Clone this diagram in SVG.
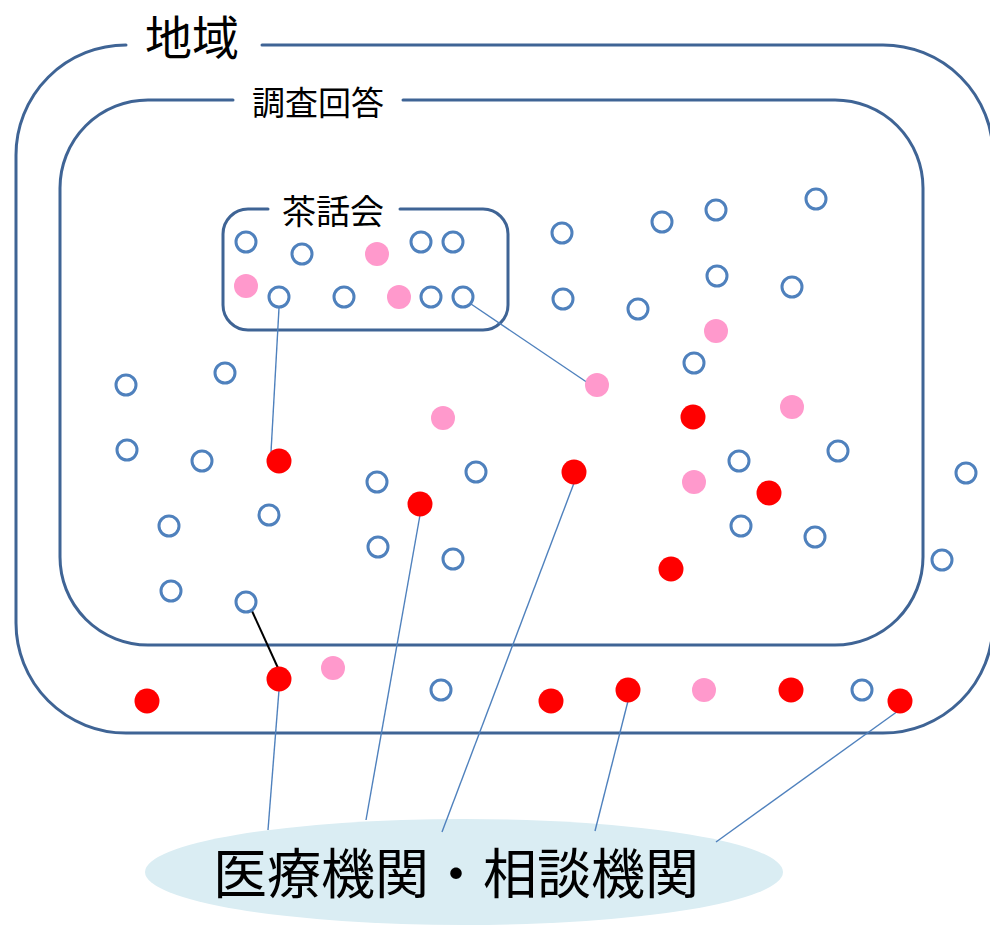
<svg xmlns="http://www.w3.org/2000/svg" width="990" height="929" viewBox="0 0 990 929">
<style>
.frame{fill:none;stroke:#3f6495;stroke-width:3;stroke-linecap:round}
.ring{fill:#fff;stroke:#4f81bd;stroke-width:3}
.pink{fill:#ff99cc}
.red{fill:#ff0000}
.link{stroke:#4f81bd;stroke-width:1.4;fill:none}
.blk{stroke:#000;stroke-width:2;fill:none}
.t{font-family:"Noto Sans CJK JP","Noto Sans CJK SC",sans-serif;fill:#000;text-anchor:middle}
</style>
<rect width="990" height="929" fill="#fff"/>
<g id="region">
<path class="frame" d="M262,45 H883 A110,110 0 0 1 993,155 V623 A110,110 0 0 1 883,733 H126 A110,110 0 0 1 16,623 V155 A110,110 0 0 1 126,45"/>
<text class="t" x="192" y="55" font-size="47">地域</text>
</g>
<g id="survey">
<path class="frame" d="M403,100 H835 A88,88 0 0 1 923,188 V557 A88,88 0 0 1 835,645 H148 A88,88 0 0 1 60,557 V188 A88,88 0 0 1 148,100 H233"/>
<text class="t" x="318" y="115" font-size="33">調査回答</text>
</g>
<g id="teaparty">
<path class="frame" d="M400,209 H483 A25,25 0 0 1 508,234 V305 A25,25 0 0 1 483,330 H248 A25,25 0 0 1 223,305 V234 A25,25 0 0 1 248,209 H268"/>
<text class="t" x="333" y="224" font-size="34">茶話会</text>
</g>
<g id="institutions">
<ellipse cx="464" cy="872" rx="319" ry="53" fill="#daedf3"/>
<text class="t" x="456" y="894" font-size="54">医療機関・相談機関</text>
</g>
<g id="connectors">
<line class="link" x1="279" y1="308" x2="271" y2="452"/>
<line class="link" x1="471" y1="304" x2="588" y2="383"/>
<line class="blk" x1="252" y1="611" x2="278" y2="668"/>
<line class="link" x1="279" y1="690" x2="268" y2="830"/>
<line class="link" x1="420" y1="515" x2="366" y2="820"/>
<line class="link" x1="574" y1="483" x2="442" y2="832"/>
<line class="link" x1="628" y1="701" x2="595" y2="831"/>
<line class="link" x1="898" y1="711" x2="716" y2="842"/>
</g>
<g id="people">
<circle class="ring" cx="246" cy="242" r="10"/>
<circle class="ring" cx="302" cy="254" r="10"/>
<circle class="pink" cx="377" cy="254" r="12"/>
<circle class="ring" cx="421" cy="242" r="10"/>
<circle class="ring" cx="453" cy="242" r="10"/>
<circle class="pink" cx="246" cy="286" r="12"/>
<circle class="ring" cx="279" cy="297" r="10"/>
<circle class="ring" cx="344" cy="297" r="10"/>
<circle class="pink" cx="399" cy="297" r="12"/>
<circle class="ring" cx="431" cy="297" r="10"/>
<circle class="ring" cx="463" cy="297" r="10"/>
<circle class="ring" cx="126" cy="385" r="10"/>
<circle class="ring" cx="225" cy="373" r="10"/>
<circle class="ring" cx="127" cy="450" r="10"/>
<circle class="ring" cx="202" cy="461" r="10"/>
<circle class="red" cx="279" cy="461" r="12.5"/>
<circle class="pink" cx="443" cy="418" r="12"/>
<circle class="ring" cx="377" cy="482" r="10"/>
<circle class="red" cx="420" cy="504" r="12.5"/>
<circle class="ring" cx="476" cy="472" r="10"/>
<circle class="ring" cx="169" cy="526" r="10"/>
<circle class="ring" cx="269" cy="515" r="10"/>
<circle class="ring" cx="378" cy="547" r="10"/>
<circle class="ring" cx="453" cy="559" r="10"/>
<circle class="ring" cx="171" cy="591" r="10"/>
<circle class="ring" cx="246" cy="602" r="10"/>
<circle class="ring" cx="562" cy="233" r="10"/>
<circle class="ring" cx="662" cy="222" r="10"/>
<circle class="ring" cx="716" cy="210" r="10"/>
<circle class="ring" cx="816" cy="199" r="10"/>
<circle class="ring" cx="563" cy="299" r="10"/>
<circle class="ring" cx="638" cy="309" r="10"/>
<circle class="ring" cx="717" cy="276" r="10"/>
<circle class="ring" cx="792" cy="287" r="10"/>
<circle class="pink" cx="716" cy="331" r="12"/>
<circle class="ring" cx="694" cy="363" r="10"/>
<circle class="pink" cx="597" cy="385" r="12"/>
<circle class="red" cx="693" cy="417" r="12.5"/>
<circle class="pink" cx="792" cy="407" r="12"/>
<circle class="ring" cx="838" cy="451" r="10"/>
<circle class="ring" cx="739" cy="461" r="10"/>
<circle class="red" cx="574" cy="472" r="12.5"/>
<circle class="pink" cx="694" cy="482" r="12"/>
<circle class="red" cx="769" cy="493" r="12.5"/>
<circle class="ring" cx="741" cy="526" r="10"/>
<circle class="ring" cx="815" cy="537" r="10"/>
<circle class="red" cx="671" cy="569" r="12.5"/>
<circle class="ring" cx="966" cy="473" r="10"/>
<circle class="ring" cx="942" cy="560" r="10"/>
<circle class="red" cx="279" cy="679" r="12.5"/>
<circle class="pink" cx="333" cy="668" r="12"/>
<circle class="red" cx="147" cy="701" r="12.5"/>
<circle class="ring" cx="441" cy="690" r="10"/>
<circle class="red" cx="551" cy="701" r="12.5"/>
<circle class="red" cx="628" cy="690" r="12.5"/>
<circle class="pink" cx="704" cy="690" r="12"/>
<circle class="red" cx="791" cy="690" r="12.5"/>
<circle class="ring" cx="862" cy="690" r="10"/>
<circle class="red" cx="900" cy="701" r="12.5"/>
</g>
</svg>
